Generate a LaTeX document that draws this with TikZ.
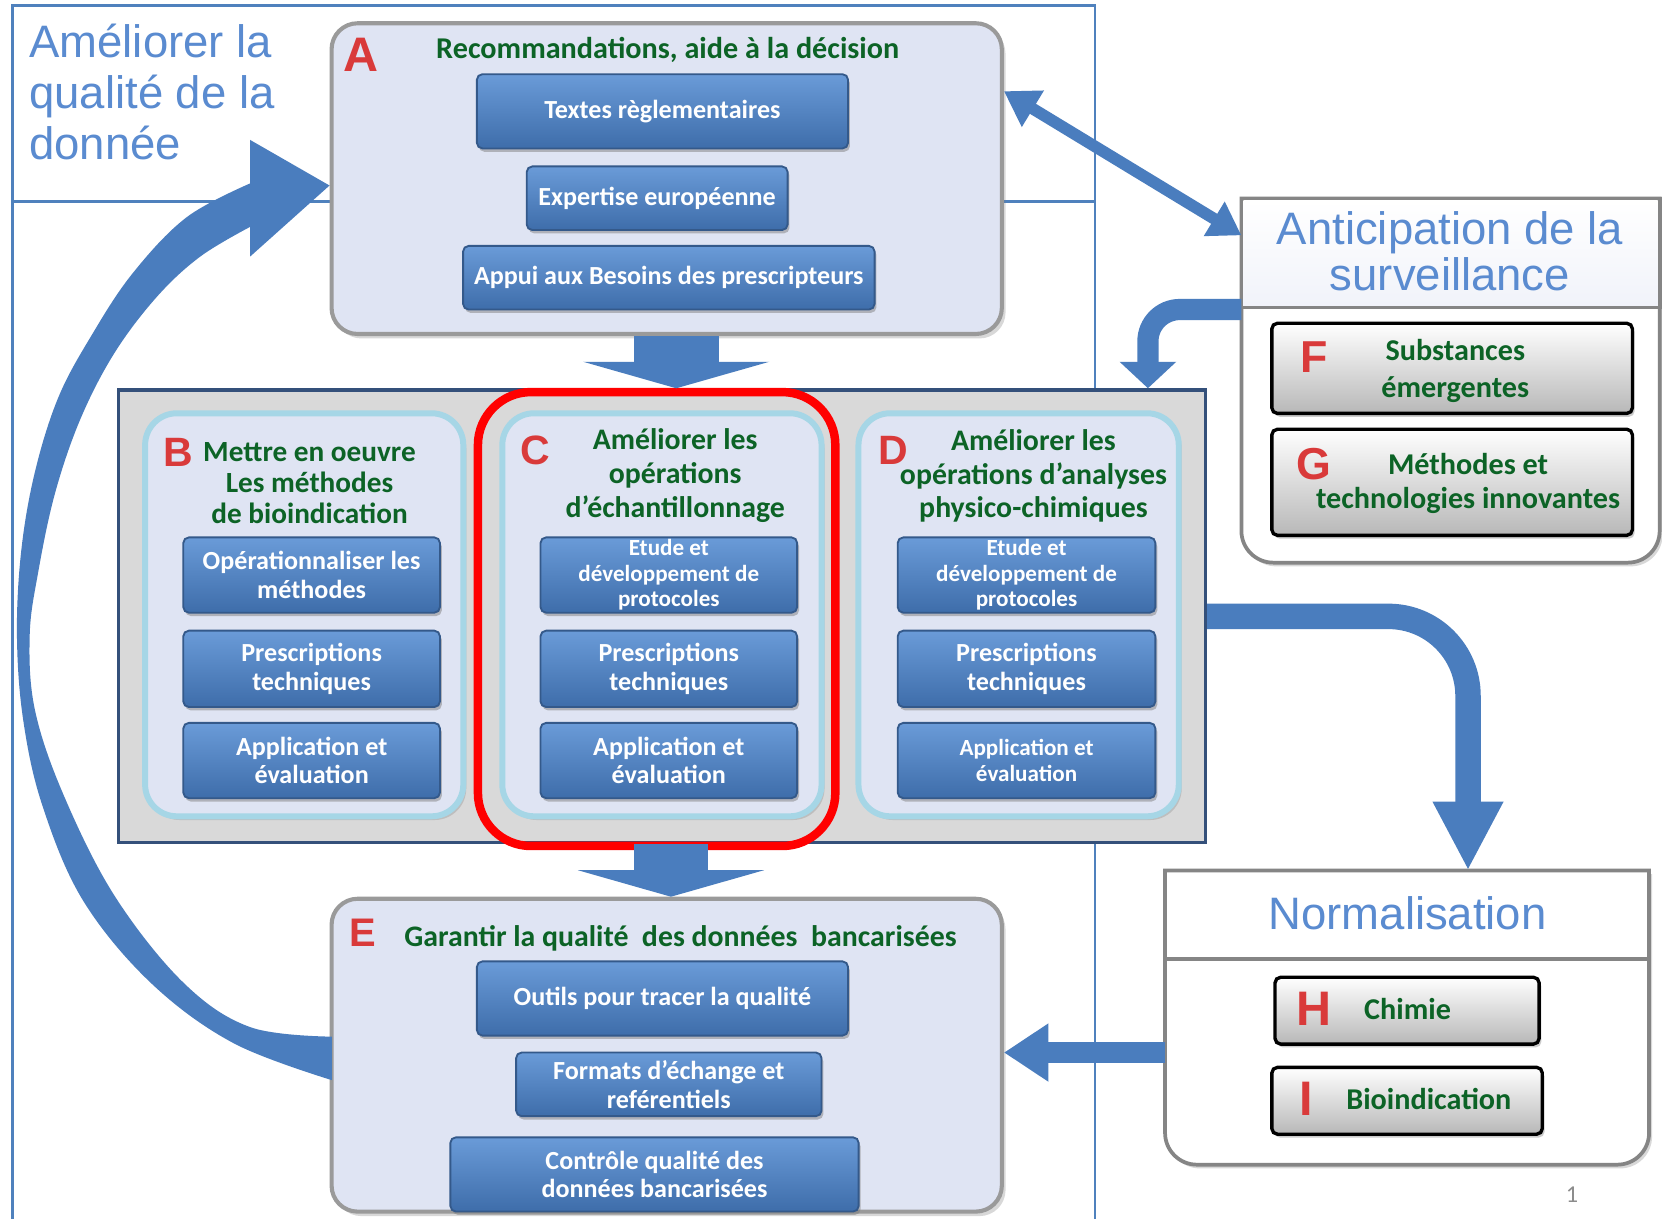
\documentclass[tikz,border=0pt]{standalone}
\usepackage{fontspec}
\setmainfont{Carlito}
\newfontfamily\arialf{Liberation Sans}
\usetikzlibrary{arrows.meta,shadows,calc}
\definecolor{frameblue}{HTML}{4F81BD}
\definecolor{arrowblue}{HTML}{4A7DBE}
\definecolor{btntop}{HTML}{6A9BD8}
\definecolor{btnbot}{HTML}{3E6DAA}
\definecolor{btnedge}{HTML}{34598A}
\definecolor{panelfill}{HTML}{DFE4F3}
\definecolor{glow}{HTML}{A6D6E6}
\definecolor{boxedge}{HTML}{9A9A9A}
\definecolor{midfill}{HTML}{D9D9D9}
\definecolor{midedge}{HTML}{34507A}
\definecolor{titgreen}{HTML}{0C6326}
\definecolor{letred}{HTML}{D93A3A}
\definecolor{titblue}{HTML}{5A8BD0}
\definecolor{grayedge}{HTML}{858585}
\tikzset{
  btn/.style={draw=btnedge, line width=0.5pt, top color=btntop, bottom color=btnbot,
    rounded corners=1.5pt, text=white, align=center, inner sep=0pt,
    font=\bfseries\fontsize{7}{7.7}\selectfont,
    drop shadow={shadow xshift=0.5pt, shadow yshift=-0.9pt, opacity=0.5}},
  bigbox/.style={draw=boxedge, line width=1.1pt, fill=panelfill, rounded corners=7pt,
    inner sep=0pt, drop shadow={shadow xshift=1pt, shadow yshift=-1.2pt, opacity=0.3}},
  panel/.style={draw=glow, line width=1.6pt, fill=panelfill, rounded corners=8.5pt, inner sep=0pt,
    drop shadow={shadow xshift=0.8pt, shadow yshift=-1pt, opacity=0.3}},
  graybtn/.style={draw=black, line width=0.9pt, top color=white, bottom color=black!28,
    rounded corners=1.5pt, inner sep=0pt,
    drop shadow={shadow xshift=0.6pt, shadow yshift=-0.9pt, opacity=0.4}},
  gtitle/.style={text=titgreen, font=\bfseries\fontsize{8}{9.1}\selectfont, align=center, inner sep=0pt},
  graytext/.style={text=titgreen, font=\bfseries\fontsize{8.1}{9.1}\selectfont, align=center, inner sep=0pt},
  letter/.style={text=letred, font=\arialf\bfseries\fontsize{#1}{#1}\selectfont, inner sep=0pt},
  bluetitle/.style={text=titblue, font=\arialf\fontsize{12.2}{13.7}\selectfont, inner sep=0pt},
  fat/.style={draw=arrowblue, line width=#1},
  frameline/.style={draw=frameblue, line width=0.7pt},
  sectbox/.style={draw=grayedge, line width=1pt, fill=white,
    drop shadow={shadow xshift=0.8pt, shadow yshift=-1pt, opacity=0.3}},
}
\begin{document}
\begin{tikzpicture}[x=0.01cm,y=-0.01cm]
\useasboundingbox (0,0) rectangle (1568,1150);
\fill[white] (0,0) rectangle (1568,1150);
% frame lines
\draw[frameline] (1033,1150) -- (1033,5) -- (12,5) -- (12,1150);
\draw[frameline] (12,190) -- (1033,190);
\node[bluetitle, align=left, anchor=west] (qual) at (27,87) {Améliorer la\\qualité de la\\donnée};

% ---------- box A
\node[bigbox, minimum width=6.32cm, minimum height=2.93cm] (A) at (629,168.5) {};
\node[letter=13] (lA) at (341,52) {A};
\node[gtitle, font=\bfseries\fontsize{8.1}{9.1}\selectfont] (tA) at (630,47) {Recommandations, aide à la décision};
\node[btn, minimum width=3.5cm, minimum height=0.70cm] (a1) at (625,105) {Textes règlementaires};
\node[btn, minimum width=2.46cm, minimum height=0.60cm] (a2) at (620,187) {Expertise européenne};
\node[btn, minimum width=3.88cm, minimum height=0.60cm] (a3) at (631,262) {Appui aux Besoins des prescripteurs};

% ---------- middle container
\node[draw=midedge, line width=0.9pt, fill=midfill, minimum width=10.25cm, minimum height=4.27cm, inner sep=0pt] (mid) at (624.5,581.5) {};
\node[panel, minimum width=3.0cm, minimum height=3.8cm] (B) at (287,580) {};
\node[panel, minimum width=3.01cm, minimum height=3.8cm] (C) at (624.5,580) {};
\node[panel, minimum width=3.02cm, minimum height=3.8cm] (D) at (961,580) {};

\node[letter=11] (lB) at (168,427) {B};
\node[gtitle, font=\bfseries\fontsize{7.85}{8.3}\selectfont] (tB) at (292,456) {Mettre en oeuvre\\Les méthodes\\de bioindication};
\node[btn, minimum width=2.42cm, minimum height=0.71cm] (b1) at (294,542.5) {Opérationnaliser les\\méthodes};
\node[btn, minimum width=2.42cm, minimum height=0.72cm] (b2) at (294,631) {Prescriptions\\techniques};
\node[btn, minimum width=2.42cm, minimum height=0.71cm] (b3) at (294,717.5) {Application et\\évaluation};

\node[letter=11] (lC) at (505,425) {C};
\node[gtitle] (tC) at (637,449) {Améliorer les\\opérations\\d’échantillonnage};
\node[btn, minimum width=2.42cm, minimum height=0.71cm, font=\bfseries\fontsize{6.2}{6.8}\selectfont] (c1) at (631,542.5) {Etude et\\développement de\\protocoles};
\node[btn, minimum width=2.42cm, minimum height=0.72cm] (c2) at (631,631) {Prescriptions\\techniques};
\node[btn, minimum width=2.42cm, minimum height=0.71cm] (c3) at (631,717.5) {Application et\\évaluation};

\node[letter=11] (lD) at (843,425) {D};
\node[gtitle] (tD) at (975,449) {Améliorer les\\opérations d’analyses\\physico-chimiques};
\node[btn, minimum width=2.43cm, minimum height=0.71cm, font=\bfseries\fontsize{6.2}{6.8}\selectfont] (d1) at (968.5,542.5) {Etude et\\développement de\\protocoles};
\node[btn, minimum width=2.43cm, minimum height=0.72cm] (d2) at (968.5,631) {Prescriptions\\techniques};
\node[btn, minimum width=2.43cm, minimum height=0.71cm, font=\bfseries\fontsize{6.2}{6.9}\selectfont] (d3) at (968.5,717.5) {Application et\\évaluation};

\node[draw=red, line width=0.08cm, rounded corners=0.5cm, minimum width=3.37cm, minimum height=4.28cm, inner sep=0pt] (hl) at (619.5,584) {};

% ---------- box E
\node[bigbox, minimum width=6.32cm, minimum height=2.95cm] (E) at (629,995.5) {};
\node[letter=10.7] (lE) at (342,880) {E};
\node[gtitle] (tE) at (642,885) {Garantir la qualité\ \ des données\ \ bancarisées};
\node[btn, minimum width=3.5cm, minimum height=0.70cm] (e1) at (625,942) {Outils pour tracer la qualité};
\node[btn, minimum width=2.88cm, minimum height=0.60cm] (e2) at (631,1023) {Formats d’échange et\\reférentiels};
\node[btn, minimum width=3.85cm, minimum height=0.70cm] (e3) at (617.5,1108) {Contrôle qualité des\\données bancarisées};

% ---------- Anticipation
\node[minimum width=3.93cm, minimum height=3.42cm, inner sep=0pt] (antic) at (1368.5,359) {};
\coordinate (sepA) at (0,290);
\path[sectbox] (antic.north west) -- (antic.north east) -- (antic.east |- sepA)
  {[rounded corners=0.3cm] -- (antic.south east) -- (antic.south west)} -- (antic.west |- sepA) -- cycle;
\shade[top color=white, bottom color=panelfill!45] ([shift={(2,2)}]antic.north west) rectangle ([shift={(-2,0)}]antic.east |- sepA);
\draw[draw=grayedge, line width=1pt] (antic.north west) rectangle (antic.east |- sepA);
\node[bluetitle, align=center, font=\arialf\fontsize{12.2}{12.3}\selectfont] (antT) at (1368,237) {Anticipation de la\\surveillance};
\node[graybtn, minimum width=3.4cm, minimum height=0.85cm] (F) at (1370,347.5) {};
\node[letter=12] (lF) at (1240,337) {F};
\node[graytext, font=\bfseries\fontsize{8.1}{10}\selectfont] (tF) at (1373,350) {Substances\\émergentes};
\node[graybtn, minimum width=3.4cm, minimum height=1.0cm] (G) at (1370,455) {};
\node[letter=12] (lG) at (1240,438) {G};
\node[graytext] (tG) at (1385,456) {Méthodes et\\technologies innovantes};

% ---------- Normalisation
\node[minimum width=4.55cm, minimum height=2.76cm, inner sep=0pt] (norm) at (1327.5,960) {};
\coordinate (sepN) at (0,905);
\path[sectbox] (norm.north west) -- (norm.north east) -- (norm.east |- sepN)
  {[rounded corners=0.3cm] -- (norm.south east) -- (norm.south west)} -- (norm.west |- sepN) -- cycle;
\draw[draw=grayedge, line width=1pt] (norm.west |- sepN) -- (norm.east |- sepN);
\node[bluetitle] (normT) at (1328,862) {Normalisation};
\node[graybtn, minimum width=2.49cm, minimum height=0.63cm] (H) at (1327.5,953.5) {};
\node[letter=13] (lH) at (1240,952) {H};
\node[graytext] (tH) at (1328,952) {Chimie};
\node[graybtn, minimum width=2.55cm, minimum height=0.63cm] (I) at (1327.5,1038.5) {};
\node[letter=13] (lI) at (1232,1037) {I};
\node[graytext] (tI) at (1348,1037) {Bioindication};

\node[text=black!45, font=\fontsize{6.5}{6.5}\selectfont, inner sep=0pt] (pg) at (1483,1127) {1};

% ---------- connectors
\coordinate (pAd) at (638,0);
\draw[fat=0.8cm, -{Triangle[length=0.25cm,width=1.75cm]}] (A.south -| pAd) -- (mid.north -| pAd);
\coordinate (pMd) at (633,0);
\draw[fat=0.7cm, -{Triangle[length=0.25cm,width=1.75cm]}] (mid.south -| pMd) -- (E.north -| pMd);

\coordinate (pA1) at (0,86);
\coordinate (pN1) at (0,222);
\draw[fat=0.11cm, {Triangle[length=0.32cm,width=0.38cm]}-{Triangle[length=0.3cm,width=0.36cm]}] (A.east |- pA1) -- (antic.west |- pN1);

\coordinate (pAn) at (0,292);
\coordinate (pDx) at (1083,0);
\draw[fat=0.2cm, rounded corners=0.3cm, -{Triangle[length=0.25cm,width=0.52cm]}] (antic.west |- pAn) -| (mid.north -| pDx);

\coordinate (pNx) at (1385,0);
\draw[fat=0.24cm, rounded corners=0.75cm, -{Triangle[length=0.65cm,width=0.62cm]}] (mid.east) -| (norm.north -| pNx);

\coordinate (pNy) at (0,993);
\draw[fat=0.2cm, -{Triangle[length=0.42cm,width=0.52cm]}] (norm.west |- pNy) -- (E.east |- pNy);

% big curved arrow E -> A (tapering band)
\coordinate (hTop) at (236,132);
\coordinate (hBot) at (236,242);
\coordinate (hTip) at (A.west |- 0,175);
\fill[arrowblue] plot[smooth, tension=0.6] coordinates {(313,1019) (220,984) (142,927) (78,849) (40,760) (22,680) (16,600) (20,520) (33,445) (55,375) (86,317) (125,258) (176,205) (236,173)}
  -- (hTop) -- (hTip) -- (hBot) -- (236,214)
  -- plot[smooth, tension=0.6] coordinates {(236,214) (189,242) (148,280) (108,333) (76,395) (52,465) (36,540) (28,600) (33,670) (60,750) (108,845) (173,927) (236,969) (313,978)} -- cycle;
\end{tikzpicture}
\end{document}
